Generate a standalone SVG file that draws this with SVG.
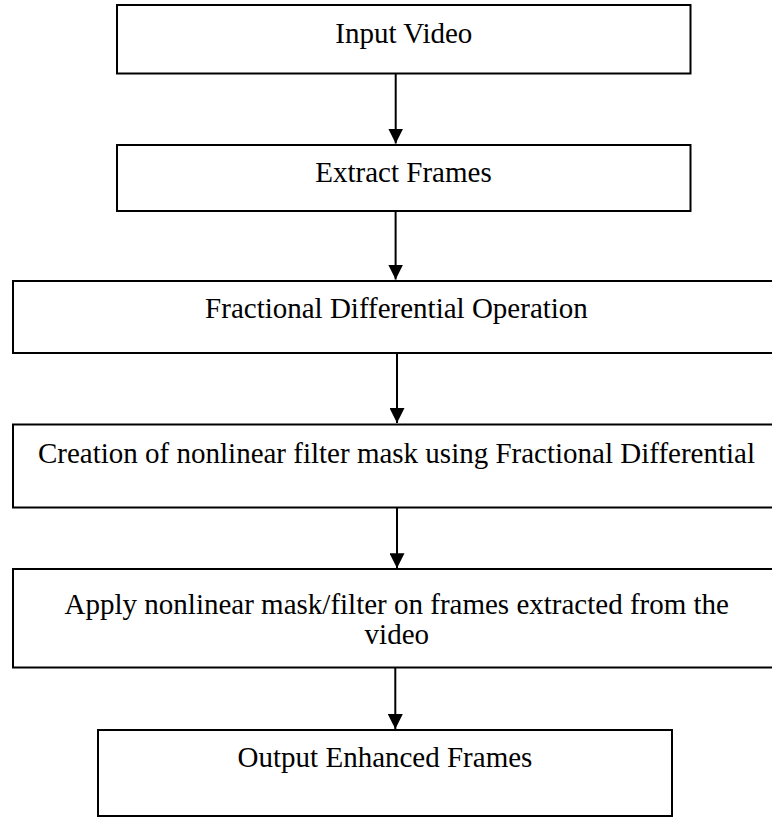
<svg xmlns="http://www.w3.org/2000/svg" width="772" height="817" viewBox="0 0 772 817">
  <defs>
    <style>
      .box { fill: #ffffff; stroke: #000000; stroke-width: 2; }
      .lbl { font-family: "Liberation Serif", "Times New Roman", serif; font-size: 29px; fill: #000000; text-anchor: middle; }
      .conn { stroke: #000000; stroke-width: 2; fill: none; }
    </style>
    <marker id="arrow" markerUnits="userSpaceOnUse" markerWidth="15" markerHeight="15" viewBox="0 0 15 15" refX="15" refY="7.5" orient="auto">
      <path d="M0,0 L15,7.5 L0,15 z" fill="#000000"/>
    </marker>
  </defs>
  <rect width="772" height="817" fill="#ffffff"/>

  <g id="node-input-video">
    <rect class="box" x="117" y="5" width="573.5" height="68.5"/>
    <text class="lbl" x="403.8" y="42.5">Input Video</text>
  </g>
  <g id="node-extract-frames">
    <rect class="box" x="117" y="145" width="573.5" height="66"/>
    <text class="lbl" x="403.5" y="182">Extract Frames</text>
  </g>
  <g id="node-fractional-differential">
    <rect class="box" x="13" y="281" width="767" height="72"/>
    <text class="lbl" x="396.5" y="317.7">Fractional Differential Operation</text>
  </g>
  <g id="node-creation-mask">
    <rect class="box" x="13" y="424.5" width="767" height="83"/>
    <text class="lbl" x="396.5" y="462.7">Creation of nonlinear filter mask using Fractional Differential</text>
  </g>
  <g id="node-apply-mask">
    <rect class="box" x="13" y="569" width="767" height="98.5"/>
    <text class="lbl" x="396.8" y="614">Apply nonlinear mask/filter on frames extracted from the</text>
    <text class="lbl" x="396.8" y="643.5">video</text>
  </g>
  <g id="node-output">
    <rect class="box" x="98" y="730" width="574" height="86"/>
    <text class="lbl" x="385" y="766.7">Output Enhanced Frames</text>
  </g>

  <g id="connectors">
    <line class="conn" x1="395.7" y1="73.5" x2="395.7" y2="143.5" marker-end="url(#arrow)"/>
    <line class="conn" x1="395.6" y1="211" x2="395.6" y2="279.5" marker-end="url(#arrow)"/>
    <line class="conn" x1="397" y1="353" x2="397" y2="423" marker-end="url(#arrow)"/>
    <line class="conn" x1="397" y1="507.7" x2="397" y2="568.3" marker-end="url(#arrow)"/>
    <line class="conn" x1="395.3" y1="667.5" x2="395.3" y2="729" marker-end="url(#arrow)"/>
  </g>
</svg>
